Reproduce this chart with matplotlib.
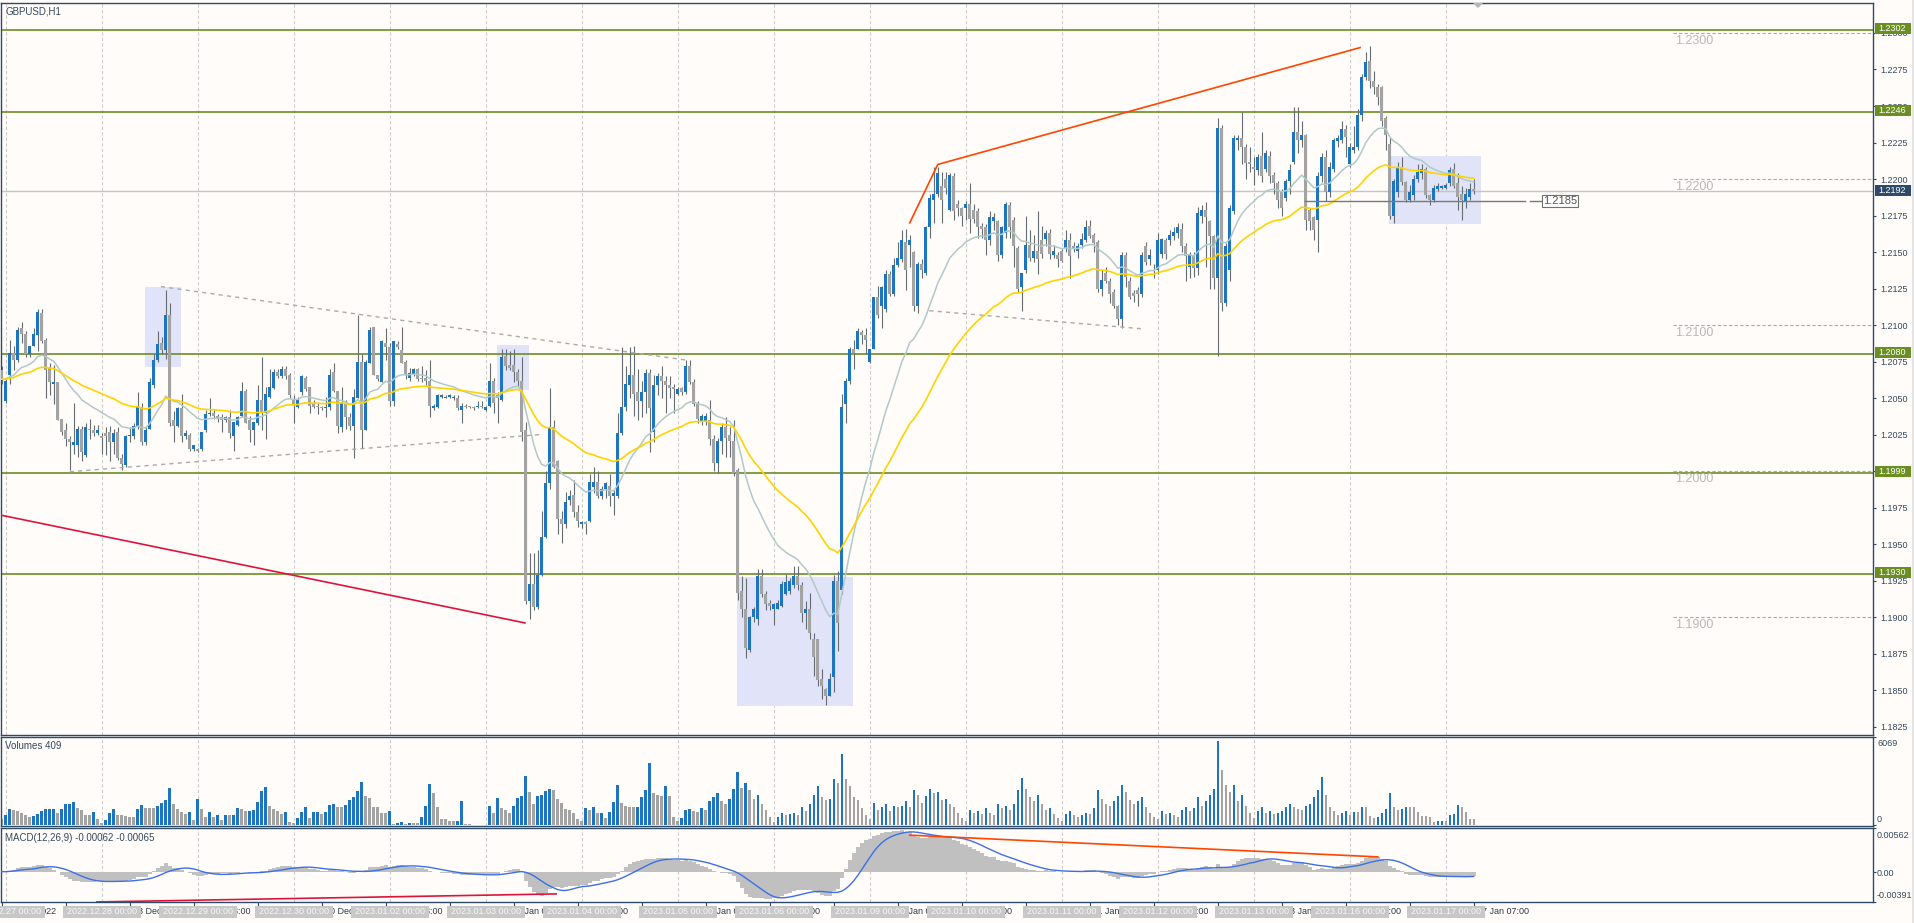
import numpy as np
import pandas as pd
import matplotlib
matplotlib.use("Agg")
import matplotlib.pyplot as plt
from matplotlib.patches import Rectangle, Polygon
from matplotlib.transforms import IdentityTransform

plt.rcParams['font.family'] = ['Liberation Sans', 'DejaVu Sans']

# GBPUSD H1 bars, 26 Dec 23:00 .. 17 Jan 07:00, prices in pips (1 pip = 0.0001)
opens = [
    12069, 12048, 12066, 12081, 12076, 12098, 12094, 12080, 12086, 12093, 12108, 12090, 12071, 12060, 12061, 12036, 12028, 12022, 12018, 12018, 12029, 12011, 12029, 12028, 12026,
    12024, 12026, 12027, 12020, 12027, 12009, 12004, 12024, 12024, 12031, 12044, 12020, 12029, 12059, 12076, 12088, 12083, 12107, 12035, 12031, 12043, 12024, 12025, 12015,
    12015, 12015, 12028, 12039, 12040, 12038, 12037, 12035, 12037, 12024, 12032, 12038, 12055, 12035, 12028, 12033, 12049, 12040, 12051, 12057, 12068, 12065, 12070, 12066,
    12049, 12044, 12054, 12064, 12058, 12047, 12045, 12044, 12043, 12044, 12068, 12055, 12030, 12047, 12037, 12031, 12050, 12075, 12028, 12074, 12099, 12066, 12061, 12088,
    12085, 12048, 12087, 12083, 12075, 12064, 12066, 12070, 12064, 12064, 12062, 12043, 12044, 12051, 12050, 12051, 12050, 12050, 12042, 12045, 12045, 12044, 12044, 12045,
    12042, 12045, 12062, 12052, 12049, 12079, 12073, 12073, 12068, 12062, 12028, 11911, 11923, 11907, 11929, 11955, 11992, 12030, 12007, 11967, 11964, 11980, 11984, 11972,
    11964, 11965, 11966, 11989, 11993, 11983, 11988, 11990, 11983, 11983, 12026, 12044, 12059, 12066, 12054, 12048, 12054, 12067, 12027, 12059, 12065, 12062, 12059, 12058,
    12053, 12057, 12054, 12072, 12061, 12046, 12034, 12034, 12035, 12022, 12006, 12021, 12030, 12025, 12021, 12001, 11918, 11906, 11878, 11900, 11899, 11928, 11916, 11910,
    11906, 11906, 11908, 11916, 11918, 11922, 11928, 11922, 11903, 11906, 11885, 11885, 11858, 11851, 11846, 11859, 11925, 11919, 12046, 12062, 12084, 12084, 12095, 12093,
    12075, 12084, 12119, 12113, 12111, 12135, 12121, 12141, 12145, 12157, 12155, 12150, 12113, 12142, 12136, 12167, 12186, 12190, 12195, 12200, 12179, 12202, 12183, 12180,
    12180, 12183, 12179, 12178, 12168, 12167, 12158, 12171, 12171, 12148, 12163, 12182, 12172, 12153, 12126, 12138, 12155, 12146, 12151, 12158, 12159, 12163, 12148, 12148,
    12151, 12153, 12158, 12154, 12151, 12155, 12158, 12168, 12162, 12157, 12125, 12136, 12130, 12123, 12113, 12104, 12148, 12130, 12122, 12124, 12121, 12154, 12145, 12138,
    12138, 12149, 12158, 12158, 12161, 12163, 12166, 12154, 12140, 12148, 12139, 12175, 12179, 12171, 12161, 12132, 12235, 12115, 12138, 12178, 12227, 12228, 12222, 12212,
    12208, 12206, 12216, 12207, 12216, 12203, 12197, 12191, 12187, 12199, 12212, 12232, 12227, 12230, 12179, 12174, 12172, 12202, 12215, 12191, 12207, 12226, 12227, 12234,
    12210, 12220, 12222, 12244, 12270, 12281, 12267, 12263, 12263, 12242, 12224, 12175, 12191, 12208, 12198, 12186, 12189, 12200, 12204, 12207, 12189, 12186, 12193, 12194,
    12194, 12197, 12207, 12197, 12190, 12185, 12188, 12193,
]
closes = [
    12063, 12062, 12081, 12076, 12097, 12094, 12080, 12086, 12094, 12109, 12089, 12069, 12061, 12061, 12035, 12027, 12022, 12020, 12020, 12029, 12013, 12030, 12028, 12026, 12028,
    12023, 12024, 12020, 12026, 12009, 12005, 12024, 12025, 12031, 12044, 12020, 12028, 12061, 12076, 12087, 12083, 12107, 12033, 12031, 12043, 12024, 12026, 12015, 12018,
    12014, 12027, 12039, 12040, 12038, 12036, 12035, 12037, 12026, 12034, 12037, 12055, 12033, 12028, 12034, 12049, 12040, 12053, 12058, 12068, 12065, 12070, 12065, 12052,
    12046, 12049, 12065, 12056, 12045, 12044, 12044, 12043, 12044, 12066, 12055, 12031, 12047, 12037, 12031, 12051, 12075, 12028, 12075, 12097, 12066, 12063, 12089, 12085,
    12048, 12089, 12085, 12074, 12066, 12067, 12070, 12063, 12063, 12062, 12045, 12045, 12052, 12052, 12051, 12052, 12051, 12043, 12045, 12044, 12044, 12043, 12045, 12044,
    12044, 12062, 12047, 12050, 12078, 12072, 12071, 12068, 12062, 12027, 11911, 11923, 11907, 11929, 11955, 11992, 12030, 12003, 11967, 11964, 11979, 11983, 11972, 11966,
    11965, 11964, 11993, 11993, 11983, 11988, 11992, 11983, 11985, 12026, 12044, 12060, 12066, 12053, 12048, 12054, 12067, 12043, 12059, 12065, 12062, 12059, 12057, 12056,
    12056, 12054, 12072, 12061, 12046, 12036, 12038, 12038, 12022, 12006, 12021, 12030, 12023, 12021, 11999, 11917, 11906, 11879, 11900, 11906, 11928, 11916, 11909, 11908,
    11909, 11910, 11923, 11924, 11925, 11928, 11922, 11903, 11906, 11889, 11873, 11857, 11853, 11846, 11858, 11925, 11896, 12044, 12062, 12084, 12081, 12096, 12093, 12090,
    12084, 12119, 12107, 12126, 12135, 12121, 12141, 12146, 12158, 12138, 12158, 12113, 12142, 12138, 12167, 12187, 12190, 12204, 12186, 12194, 12203, 12178, 12180, 12175,
    12183, 12173, 12173, 12167, 12166, 12158, 12174, 12174, 12148, 12167, 12183, 12167, 12154, 12125, 12136, 12155, 12146, 12151, 12145, 12149, 12163, 12149, 12151, 12145,
    12144, 12158, 12147, 12153, 12154, 12159, 12167, 12161, 12156, 12125, 12131, 12130, 12121, 12113, 12104, 12148, 12133, 12119, 12120, 12121, 12148, 12143, 12148, 12137,
    12158, 12159, 12149, 12162, 12164, 12167, 12154, 12147, 12148, 12139, 12177, 12179, 12174, 12161, 12132, 12235, 12115, 12154, 12180, 12228, 12228, 12222, 12211, 12210,
    12207, 12215, 12202, 12218, 12202, 12197, 12186, 12180, 12199, 12206, 12232, 12227, 12230, 12172, 12171, 12165, 12202, 12215, 12191, 12208, 12227, 12228, 12234, 12229,
    12222, 12222, 12244, 12270, 12280, 12267, 12263, 12256, 12240, 12230, 12175, 12199, 12208, 12198, 12186, 12191, 12200, 12205, 12207, 12189, 12186, 12194, 12195, 12195,
    12196, 12206, 12195, 12188, 12186, 12190, 12193, 12192,
]
highs = [
    12072, 12064, 12090, 12086, 12099, 12102, 12096, 12086, 12098, 12111, 12111, 12091, 12074, 12073, 12061, 12036, 12033, 12024, 12047, 12031, 12031, 12033, 12036, 12032, 12032,
    12026, 12030, 12031, 12029, 12030, 12012, 12025, 12030, 12033, 12054, 12047, 12030, 12064, 12080, 12096, 12092, 12124, 12115, 12041, 12044, 12053, 12028, 12026, 12018,
    12016, 12027, 12042, 12050, 12042, 12039, 12039, 12038, 12042, 12034, 12038, 12061, 12056, 12038, 12034, 12059, 12078, 12058, 12070, 12070, 12070, 12072, 12072, 12067,
    12052, 12051, 12066, 12065, 12058, 12049, 12047, 12045, 12051, 12070, 12074, 12055, 12058, 12049, 12040, 12056, 12107, 12080, 12076, 12099, 12099, 12066, 12090, 12098,
    12088, 12089, 12089, 12099, 12076, 12071, 12071, 12071, 12072, 12069, 12076, 12046, 12053, 12053, 12052, 12053, 12052, 12052, 12047, 12046, 12045, 12045, 12048, 12048,
    12045, 12074, 12064, 12054, 12084, 12084, 12082, 12084, 12070, 12078, 12034, 11944, 11944, 11946, 11973, 12000, 12057, 12035, 12008, 11973, 11986, 11987, 11994, 11977,
    11966, 11966, 11998, 12003, 12000, 11990, 11993, 11998, 11987, 12040, 12085, 12072, 12085, 12086, 12070, 12062, 12070, 12070, 12066, 12067, 12072, 12065, 12065, 12060,
    12058, 12058, 12076, 12076, 12063, 12048, 12039, 12040, 12049, 12025, 12023, 12033, 12037, 12030, 12035, 12002, 11928, 11927, 11901, 11907, 11933, 11933, 11918, 11912,
    11910, 11912, 11925, 11930, 11927, 11935, 11935, 11924, 11911, 11917, 11889, 11885, 11865, 11852, 11862, 11929, 11932, 12053, 12064, 12085, 12090, 12098, 12097, 12098,
    12084, 12119, 12127, 12127, 12138, 12137, 12146, 12157, 12165, 12166, 12162, 12151, 12143, 12145, 12168, 12190, 12208, 12208, 12205, 12205, 12204, 12204, 12186, 12181,
    12185, 12197, 12183, 12180, 12170, 12169, 12178, 12177, 12172, 12168, 12184, 12184, 12174, 12154, 12136, 12175, 12165, 12162, 12178, 12168, 12165, 12166, 12155, 12150,
    12152, 12165, 12163, 12157, 12156, 12163, 12172, 12172, 12163, 12158, 12138, 12140, 12132, 12125, 12114, 12150, 12150, 12133, 12124, 12126, 12150, 12157, 12152, 12142,
    12163, 12160, 12160, 12165, 12167, 12170, 12170, 12156, 12150, 12150, 12181, 12182, 12184, 12172, 12162, 12242, 12237, 12156, 12182, 12230, 12230, 12246, 12224, 12222,
    12215, 12217, 12232, 12220, 12219, 12205, 12199, 12193, 12200, 12210, 12249, 12249, 12240, 12231, 12180, 12175, 12205, 12218, 12220, 12212, 12228, 12230, 12240, 12237,
    12225, 12236, 12248, 12272, 12287, 12291, 12274, 12265, 12264, 12243, 12228, 12200, 12212, 12215, 12199, 12196, 12203, 12210, 12210, 12208, 12190, 12196, 12197, 12196,
    12197, 12208, 12211, 12204, 12195, 12194, 12197, 12200,
]
lows = [
    12060, 12047, 12060, 12069, 12075, 12088, 12078, 12078, 12086, 12082, 12088, 12050, 12052, 12046, 12035, 12025, 12017, 12001, 12012, 12010, 12007, 12010, 12022, 12024, 12025,
    12012, 12011, 12007, 12012, 12008, 12001, 12003, 12020, 12022, 12029, 12018, 12018, 12029, 12057, 12075, 12080, 12077, 12031, 12020, 12030, 12020, 12022, 12014, 12014,
    12013, 12014, 12027, 12038, 12036, 12034, 12027, 12034, 12023, 12014, 12031, 12037, 12033, 12020, 12018, 12032, 12028, 12022, 12050, 12056, 12064, 12064, 12063, 12050,
    12033, 12043, 12052, 12055, 12040, 12043, 12039, 12042, 12037, 12042, 12054, 12026, 12027, 12029, 12028, 12009, 12050, 12016, 12028, 12074, 12066, 12062, 12061, 12076,
    12045, 12045, 12084, 12074, 12063, 12062, 12065, 12062, 12061, 12059, 12037, 12042, 12043, 12050, 12050, 12050, 12049, 12042, 12033, 12043, 12043, 12042, 12043, 12043,
    12041, 12044, 12040, 12033, 12048, 12069, 12069, 12061, 12058, 12021, 11909, 11899, 11905, 11906, 11928, 11954, 11988, 12002, 11957, 11951, 11961, 11977, 11969, 11962,
    11961, 11957, 11965, 11985, 11982, 11981, 11982, 11976, 11970, 11982, 12025, 12041, 12050, 12038, 12035, 12037, 12040, 12013, 12020, 12052, 12050, 12040, 12050, 12040,
    12052, 12052, 12053, 12060, 12045, 12033, 12032, 12032, 12018, 12000, 11999, 12012, 12010, 12010, 11997, 11912, 11900, 11872, 11876, 11897, 11895, 11914, 11905, 11905,
    11895, 11906, 11907, 11915, 11916, 11920, 11919, 11897, 11892, 11885, 11860, 11853, 11844, 11840, 11846, 11849, 11877, 11916, 12033, 12060, 12070, 12084, 12087, 12080,
    12074, 12084, 12105, 12098, 12109, 12120, 12120, 12140, 12143, 12124, 12140, 12110, 12108, 12132, 12134, 12160, 12170, 12188, 12170, 12190, 12178, 12172, 12175, 12168,
    12172, 12163, 12170, 12160, 12160, 12148, 12155, 12165, 12144, 12146, 12160, 12160, 12140, 12123, 12110, 12136, 12144, 12143, 12135, 12146, 12154, 12145, 12146, 12140,
    12143, 12150, 12132, 12150, 12146, 12153, 12157, 12160, 12150, 12123, 12120, 12129, 12115, 12112, 12100, 12098, 12126, 12118, 12116, 12113, 12119, 12141, 12141, 12132,
    12135, 12146, 12145, 12155, 12158, 12160, 12150, 12130, 12132, 12133, 12134, 12170, 12140, 12125, 12125, 12079, 12110, 12113, 12130, 12176, 12220, 12210, 12200, 12205,
    12196, 12203, 12198, 12205, 12197, 12190, 12180, 12175, 12185, 12190, 12210, 12218, 12222, 12165, 12165, 12158, 12150, 12198, 12185, 12188, 12205, 12222, 12225, 12215,
    12208, 12218, 12220, 12240, 12268, 12262, 12258, 12251, 12236, 12220, 12173, 12170, 12188, 12196, 12184, 12184, 12186, 12198, 12200, 12187, 12182, 12184, 12192, 12193,
    12193, 12195, 12194, 12179, 12172, 12180, 12186, 12190,
]
volumes = [
    410, 700, 1157, 1085, 1037, 892, 724, 555, 651, 796, 1037, 1157, 1170, 1180, 892, 1133, 1519, 1530, 1663, 1206, 1085, 724, 720, 940, 410,
    169, 362, 844, 1157, 724, 720, 651, 603, 590, 1157, 1447, 1230, 1225, 1220, 1374, 1567, 1808, 2652, 1519, 1133, 965, 796, 965, 362,
    1880, 1157, 555, 965, 555, 724, 362, 724, 720, 730, 1206, 1157, 989, 1010, 1050, 1682, 2483, 2724, 1374, 1133, 1037, 796, 965, 242,
    169, 531, 916, 1278, 531, 965, 975, 820, 940, 1422, 1519, 1278, 1270, 1447, 1808, 2001, 2459, 3085, 2097, 1929, 1278, 1270, 892, 880,
    1037, 48, 169, 217, 72, 121, 121, 121, 555, 1374, 2965, 2290, 1278, 434, 430, 314, 290, 314, 1760, 72, 60, 30, 30, 30,
    30, 1374, 844, 1929, 1206, 1085, 892, 1374, 1929, 2100, 3567, 2410, 1519, 2121, 2200, 2459, 2579, 2500, 1880, 1567, 1157, 1085, 844, 410,
    290, 1254, 1085, 1278, 892, 900, 482, 965, 1682, 2892, 1567, 1374, 1326, 1300, 1326, 2049, 2531, 4459, 2290, 2200, 2100, 2820, 2097, 555,
    290, 482, 1085, 1133, 1037, 965, 1200, 1100, 1700, 2000, 2300, 1700, 1500, 1900, 2600, 3800, 2700, 3000, 2500, 1900, 2200, 1500, 1100, 600,
    250, 600, 900, 700, 800, 900, 700, 1300, 1000, 1500, 2200, 2800, 2000, 1800, 1900, 3300, 3000, 5100, 3300, 2800, 2000, 1800, 1200, 700,
    400, 1600, 1100, 1300, 1500, 1000, 1400, 1300, 1400, 1700, 1300, 2500, 2200, 1600, 2100, 2600, 2300, 2400, 1800, 1900, 1500, 1300, 900, 500,
    300, 1100, 900, 1000, 800, 1200, 900, 700, 1500, 1200, 1400, 1100, 1500, 2500, 3400, 2600, 2000, 1700, 2200, 1500, 1100, 1200, 800, 500,
    300, 800, 1000, 700, 600, 700, 900, 800, 1200, 2500, 1900, 1500, 1400, 1700, 2100, 2900, 2400, 1800, 1500, 1700, 2000, 1300, 900, 600,
    400, 1000, 800, 900, 700, 600, 1100, 1300, 1000, 1200, 2000, 1400, 1700, 2200, 2600, 6069, 4000, 2900, 2400, 2900, 1700, 2200, 1400, 900,
    500, 1000, 1300, 900, 1000, 800, 900, 1000, 1300, 1500, 1300, 1150, 1085, 1374, 1519, 2049, 2531, 3495, 2170, 1326, 1013, 724, 844, 1013,
    724, 940, 930, 1326, 1320, 651, 482, 603, 844, 1157, 2338, 1278, 1085, 1182, 1326, 1320, 1310, 965, 651, 640, 555, 242, 260, 290,
    280, 724, 796, 1447, 1278, 965, 458, 409,
]

days_full = ['2022.12.27', '2022.12.28', '2022.12.29', '2022.12.30', '2023.01.02', '2023.01.03',
             '2023.01.04', '2023.01.05', '2023.01.06', '2023.01.09', '2023.01.10', '2023.01.11',
             '2023.01.12', '2023.01.13', '2023.01.16', '2023.01.17']
days_short = ['27 Dec', '28 Dec', '29 Dec', '30 Dec', '2 Jan', '3 Jan', '4 Jan', '5 Jan', '6 Jan',
              '9 Jan', '10 Jan', '11 Jan', '12 Jan', '13 Jan', '16 Jan', '17 Jan']

green_levels = [1.2302, 1.2246, 1.2080, 1.1999, 1.1930]
round_levels = [1.2300, 1.2200, 1.2100, 1.2000, 1.1900]
price_ticks = [1.1825 + 0.0025 * k for k in range(20)]

# chart objects: (bar index, price)
red_line = ([-1.4, 129.8], [1.19701, 1.18962])
orange_line = ([226, 233, 338.6], [1.2170, 1.2210, 1.2290])
dotted_lines = [([38.8, 169.8], [1.21264, 1.20762]),
                ([16, 134.3], [1.19997, 1.20253]),
                ([230.9, 283.8], [1.21099, 1.20976])]
boxes = [(34.8, 43.8, 1.20716, 1.21264), (122.8, 130.8, 1.20556, 1.20862),
         (182.8, 211.7, 1.18396, 1.19275), (345.7, 368.8, 1.21691, 1.22158)]
label_level = 1.2185
macd_orange = ([226, 343], [0.0047, 0.0019])
macd_red = ([22.8, 137.6], [-0.0039, -0.00287])

W, H = 1915, 923
BG = '#fffcfa'
SPINE = '#2f4a66'
TXT = '#34495e'
BLUE = '#1f74bf'
GRAY = '#a3a3a3'
WICK = '#646d72'
GREEN = '#6b8e23'
T = IdentityTransform()


def top(y):
    # pixel from top -> display y
    return H - y


x = np.arange(-1, len(closes) - 1)
o = np.array(opens) / 1e4
c = np.array(closes) / 1e4
hi = np.array(highs) / 1e4
lo = np.array(lows) / 1e4
vol = np.array(volumes)

fig = plt.figure(figsize=(W / 100, H / 100), dpi=100, facecolor=BG)


def panel(y0, y1):
    a = fig.add_axes([1 / W, 1 - y1 / H, 1872 / W, (y1 - y0) / H])
    a.set_facecolor(BG)
    for s in a.spines.values():
        s.set_color(SPINE)
        s.set_linewidth(1)
    a.set_xlim(-1.175, 466.8)
    return a


ax = panel(3, 735)
axv = panel(737, 826)
axm = panel(828, 902)
ax.set_ylim(1.18195, 1.23205)
axv.set_ylim(-72, 6358)
axm.set_ylim(-0.00391, 0.00562)

for a in (ax, axv, axm):
    for d in range(len(days_full)):
        a.axvline(24 * d, color='#cdcdcd', lw=0.8, ls=(0, (3, 2)), zorder=0.5)

# rectangles and levels
for b0, b1, p0, p1 in boxes:
    ax.add_patch(Rectangle((b0, p0), b1 - b0, p1 - p0, fc='#e1e4f8', ec='none', zorder=1))
for lvl in green_levels:
    ax.axhline(lvl, color=GREEN, lw=1.2, zorder=2)
for lvl in round_levels:
    ax.plot([416.8, 470], [lvl, lvl], color='#aaaaaa', lw=0.8, ls=(0, (3, 2)), zorder=2)
    ax.text(417.4, lvl - 0.00013, f'{lvl:.4f}', ha='left', va='top', fontsize=9, color='#b8b8b8', zorder=2)
ax.axhline(c[-1], color='#c4c4c4', lw=1, zorder=2)

# candles
ax.vlines(x, lo, hi, color=WICK, lw=0.8, zorder=3)
ax.bar(x, np.maximum(np.abs(c - o), 0.00004), bottom=np.minimum(o, c), width=0.72,
       color=np.where(c >= o, BLUE, GRAY), lw=0, zorder=4)

# moving averages (EMA 20 and EMA 50)
cs = pd.Series(c)
ax.plot(x, cs.ewm(span=20, adjust=False).mean(), color='#b0c9c9', lw=1.1, zorder=5)
ax.plot(x, cs.ewm(span=50, adjust=False).mean(), color='#ffd300', lw=1.2, zorder=5)

# trend lines
ax.plot(*red_line, color='#dc143c', lw=1.2, zorder=6)
ax.plot(*orange_line, color='#ff4500', lw=1.2, zorder=6)
for xs, ys in dotted_lines:
    ax.plot(xs, ys, color='#ababab', lw=1, ls=(0, (3, 3)), zorder=6)
ax.plot([324.8, 379.8], [label_level] * 2, color='#787878', lw=1, zorder=6)
ax.plot([381.1, 384.0], [label_level] * 2, color='#787878', lw=1, zorder=6)
ax.text(384.3, label_level, f'{label_level:.4f}', ha='left', va='center', fontsize=8, color='#555555',
        bbox=dict(boxstyle='square,pad=0.12', fc='white', ec='#6f6f6f', lw=0.8), zorder=7)

# volumes
vcol = [GRAY] + [BLUE if vol[i] > vol[i - 1] else GRAY for i in range(1, len(vol))]
axv.bar(x, vol, width=0.62, color=vcol, lw=0, zorder=2)

# MACD (12,26,9): histogram = main, line = signal
macd = cs.ewm(span=12, adjust=False).mean() - cs.ewm(span=26, adjust=False).mean()
sig = macd.rolling(9, min_periods=1).mean()
axm.bar(x, macd, width=1.0, color='#c0c0c0', lw=0, zorder=2)
axm.plot(x, sig, color='#3d6fe6', lw=1.0, zorder=3)
axm.plot(*macd_orange, color='#ff4500', lw=1.2, zorder=4)
axm.plot(*macd_red, color='#dc143c', lw=1.2, zorder=4)

# axes ticks
ax.set_xticks([])
axv.set_xticks([])
ax.yaxis.tick_right()
ax.set_yticks(price_ticks)
ax.set_yticklabels([f'{t:.4f}' for t in price_ticks])
ax.tick_params(axis='y', length=2.5, width=0.8, color=SPINE, labelcolor=TXT, labelsize=6.5, pad=3)
axv.yaxis.tick_right()
axv.set_yticks([0, 6358])
axv.set_yticklabels([])
axv.tick_params(axis='y', length=2.5, width=0.8, color=SPINE)
axm.yaxis.tick_right()
axm.set_yticks([-0.00391, 0, 0.00562])
axm.set_yticklabels([])
axm.tick_params(axis='y', length=2.5, width=0.8, color=SPINE)
tick_bars = list(range(-1, len(closes) - 1, 16))
axm.set_xticks(tick_bars)
axm.set_xticklabels([])
axm.tick_params(axis='x', length=4, width=0.8, color=SPINE)


def py(a, v):
    return a.transData.transform((0, v))[1]


def pxb(a, b):
    return a.transData.transform((b, 0))[0]


# right axis price boxes
for lvl in green_levels:
    yd = py(ax, lvl) + 1.5
    fig.add_artist(Rectangle((1875, yd - 5.5), 36, 11, transform=T, fc=GREEN, ec='none', zorder=20))
    fig.text(1878.5, yd, f'{lvl:.4f}', transform=T, ha='left', va='center', fontsize=6.5, color='white', zorder=21)
yd = py(ax, c[-1])
fig.add_artist(Rectangle((1875, yd - 5.5), 36, 11, transform=T, fc='#2e4a68', ec='none', zorder=20))
fig.text(1878.5, yd, f'{c[-1]:.4f}', transform=T, ha='left', va='center', fontsize=6.5, color='white', zorder=21)

# panel titles and scales
fig.text(5, top(11), 'GBPUSD,H1', transform=T, ha='left', va='center', fontsize=7, color=TXT, zorder=21)
fig.text(5, top(746), f'Volumes {volumes[-1]}', transform=T, ha='left', va='center', fontsize=7, color=TXT, zorder=21)
fig.text(5, top(838), 'MACD(12,26,9) -0.00062 -0.00065', transform=T, ha='left', va='center', fontsize=7, color=TXT, zorder=21)
for s, yy in [('6069', 744), ('0', 819), ('0.00562', 836), ('0.00', 873), ('-0.00391', 895)]:
    fig.text(1877, top(yy), s, transform=T, ha='left', va='center', fontsize=6.5, color=TXT, zorder=21)

# time axis labels, then day separator labels on top
for b in tick_bars:
    lab = '26 Dec 2022' if b < 0 else f'{days_short[b // 24]} {b % 24:02d}:00'
    fig.text(pxb(axm, b) + 3, top(911.5), lab, transform=T, ha='left', va='center', fontsize=6.5, color='#2b3b4c', zorder=21)
for d, day in enumerate(days_full):
    cx = pxb(axm, 24 * d)
    fig.add_artist(Rectangle((cx - 39, top(917.5)), 78, 11.5, transform=T, fc='#c8c8c8', ec='none', zorder=22))
    fig.text(cx, top(911.5), f'{day} 00:00', transform=T, ha='center', va='center', fontsize=6.5, color='#f7f7f7', zorder=23)

# chart shift marker and right strip
fig.add_artist(Polygon([(1473, top(3)), (1483, top(3)), (1478, top(8))], closed=True, transform=T,
                       fc='#b5b5b5', ec='none', zorder=20))
fig.add_artist(Rectangle((1912, 0), 3, H, transform=T, fc='#e4e4e4', ec='none', zorder=20))

fig.savefig('out.png', dpi=100, facecolor=BG)
